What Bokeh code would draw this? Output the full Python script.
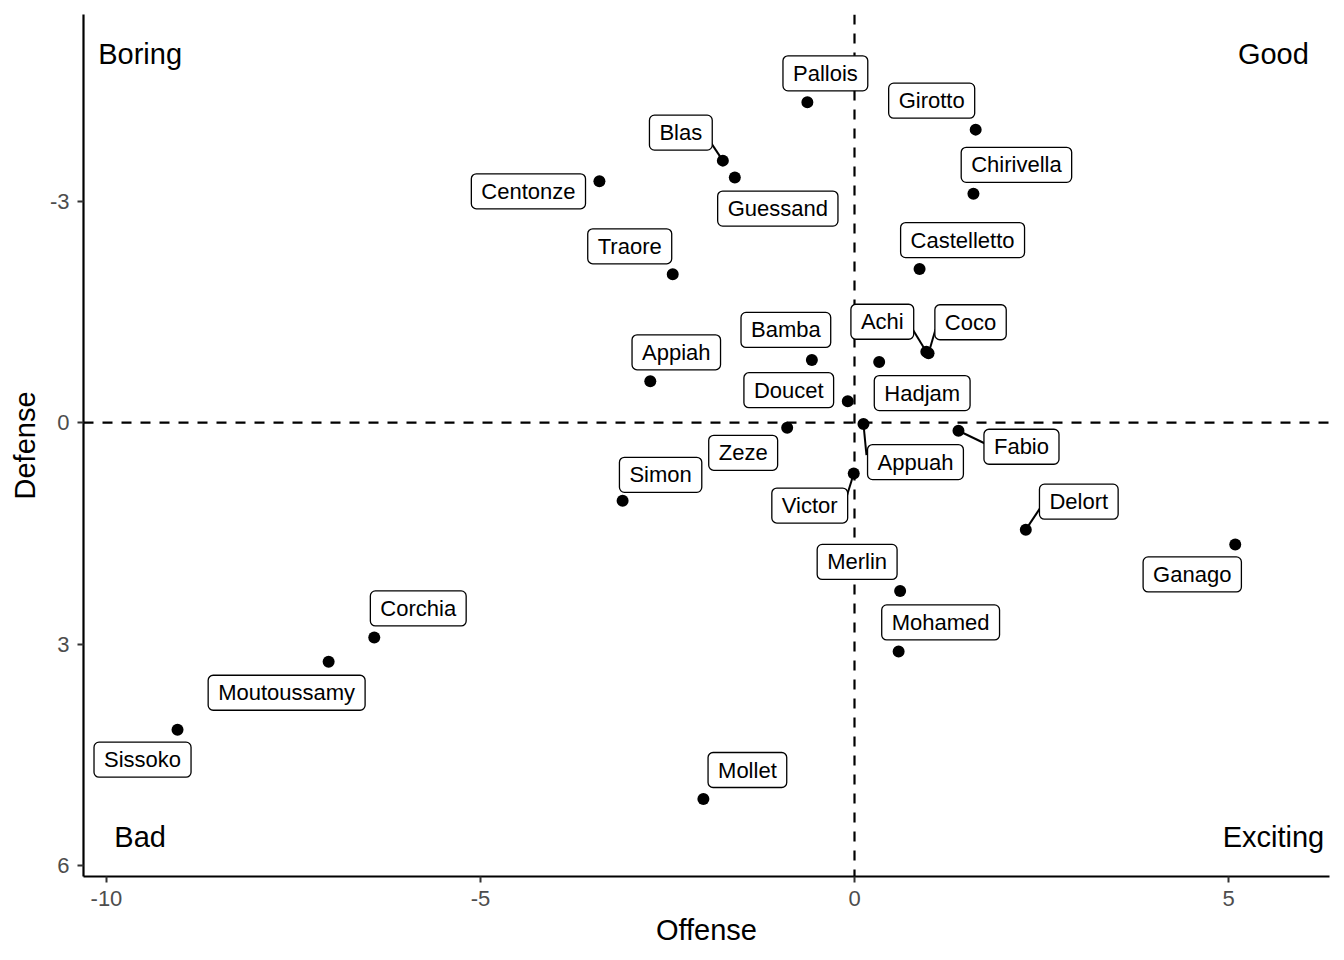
from bokeh.plotting import figure
from bokeh.models import Range1d, FixedTicker, ColumnDataSource, Span
from bokeh.core.properties import value
from bokeh.embed import file_html
from bokeh.resources import INLINE

# ---- data ----
players = ["Pallois", "Girotto", "Blas", "Guessand", "Centonze", "Chirivella",
           "Castelletto", "Traore", "Achi", "Coco", "Bamba", "Hadjam", "Appiah",
           "Doucet", "Zeze", "Appuah", "Fabio", "Victor", "Simon", "Delort",
           "Ganago", "Merlin", "Corchia", "Mohamed", "Moutoussamy", "Sissoko", "Mollet"]
offense = [-0.63, 1.62, -1.76, -1.60, -3.41, 1.59, 0.87, -2.43, 0.96, 0.99, -0.57,
           0.33, -2.73, -0.09, -0.90, 0.12, 1.39, -0.01, -3.10, 2.29, 5.09, 0.61,
           -6.42, 0.59, -7.03, -9.05, -2.02]
defense = [-4.34, -3.97, -3.55, -3.32, -3.27, -3.10, -2.08, -2.01, -0.96, -0.94, -0.85,
           -0.82, -0.56, -0.29, 0.07, 0.02, 0.11, 0.69, 1.06, 1.45, 1.65, 2.28,
           2.91, 3.10, 3.24, 4.16, 5.10]

quadrant_text = ["Boring", "Good", "Bad", "Exciting"]
quadrant_x = [-9.55, 5.6, -9.55, 5.6]
quadrant_y = [-5.0, -5.0, 5.62, 5.62]

x_ticks = [-10, -5, 0, 5]
y_ticks = [-3, 0, 3, 6]

# ---- label placement (screen pixel offsets of label centre from its point) ----
label_dx = [18, -44, -42, 43, -71, 43, 43, -43, -44, 42, -26, 43, 26, -59, -44, 52,
            63, -44, 38, 53, -43, -43, 44, 42, -42, -35, 44]
label_dy = [-29, -29, -28, 31, 10, -29, -29, -28, -30, -31, -30, 31, -29, -11, 25, 38,
            16, 32, -26, -28, 30, -29, -29, -29, 31, 30, -29]
# leader segments (pixel offset of segment end from point)
seg_end = {"Blas": (-12, -18), "Achi": (-14, -23), "Coco": (7, -24), "Appuah": (3, 31),
           "Fabio": (27, 13), "Victor": (-8, 26), "Delort": (14, -21)}

X0, X1 = -10.307, 6.35
Y0, Y1 = 6.15, -5.53
FW, FH = 1246, 862
sx = FW / (X1 - X0)
sy = FH / (Y0 - Y1)

FONT = "Liberation Sans"

p = figure(frame_width=FW, frame_height=FH,
           x_range=Range1d(X0, X1), y_range=Range1d(Y0, Y1),
           output_backend="svg", toolbar_location=None,
           min_border_left=83, min_border_right=7, min_border_top=14, min_border_bottom=60,
           x_axis_label="Offense", y_axis_label="Defense")
p.outline_line_color = None
p.grid.visible = False
p.background_fill_color = "white"
p.border_fill_color = "white"

p.xaxis.ticker = FixedTicker(ticks=x_ticks)
p.yaxis.ticker = FixedTicker(ticks=y_ticks)
p.xaxis.major_label_overrides = {t: str(t) for t in x_ticks}
p.yaxis.major_label_overrides = {t: str(t) for t in y_ticks}
for ax in (p.xaxis[0], p.yaxis[0]):
    ax.axis_line_color = "black"
    ax.axis_line_width = 2.2
    ax.major_tick_line_color = "#333333"
    ax.major_tick_line_width = 2
    ax.major_tick_out = 6
    ax.major_tick_in = 0
    ax.minor_tick_line_color = None
    ax.major_label_text_font = FONT
    ax.major_label_text_font_size = "22px"
    ax.major_label_text_color = "#4D4D4D"
    ax.axis_label_text_font = FONT
    ax.axis_label_text_font_size = "29px"
    ax.axis_label_text_font_style = "normal"
    ax.axis_label_text_color = "black"
p.xaxis[0].major_label_standoff = 8
p.yaxis[0].major_label_standoff = 8
p.xaxis[0].axis_label_standoff = 5
p.yaxis[0].axis_label_standoff = 6

# reference lines
for dim in ("height", "width"):
    p.add_layout(Span(location=0, dimension=dim, line_color="black", line_width=2.2,
                      line_dash="10 9", level="underlay"))

# leader segments
sx0, sy0, sx1, sy1 = [], [], [], []
for name, ox, oy in zip(players, offense, defense):
    if name in seg_end:
        dx, dy = seg_end[name]
        sx0.append(ox); sy0.append(oy)
        sx1.append(ox + dx / sx); sy1.append(oy + dy / sy)
p.segment(x0=sx0, y0=sy0, x1=sx1, y1=sy1, line_color="black", line_width=2)

src = ColumnDataSource(dict(x=offense, y=defense, name=players, dx=label_dx, dy=label_dy))
p.scatter(x="x", y="y", source=src, size=12, fill_color="black", line_color=None)

p.text(x="x", y="y", text="name", x_offset="dx", y_offset="dy", source=src,
       text_font=value(FONT), text_font_size="22px", text_color="black",
       text_align="center", text_baseline="middle",
       background_fill_color="white", border_line_color="black", border_line_width=1.3,
       padding=(10, 5), border_radius=5)

p.text(x=quadrant_x, y=quadrant_y, text=quadrant_text, text_font=value(FONT),
       text_font_size="29px", text_color="black", text_align="center",
       text_baseline="middle")

open("out.html", "w").write(file_html(p, INLINE))
